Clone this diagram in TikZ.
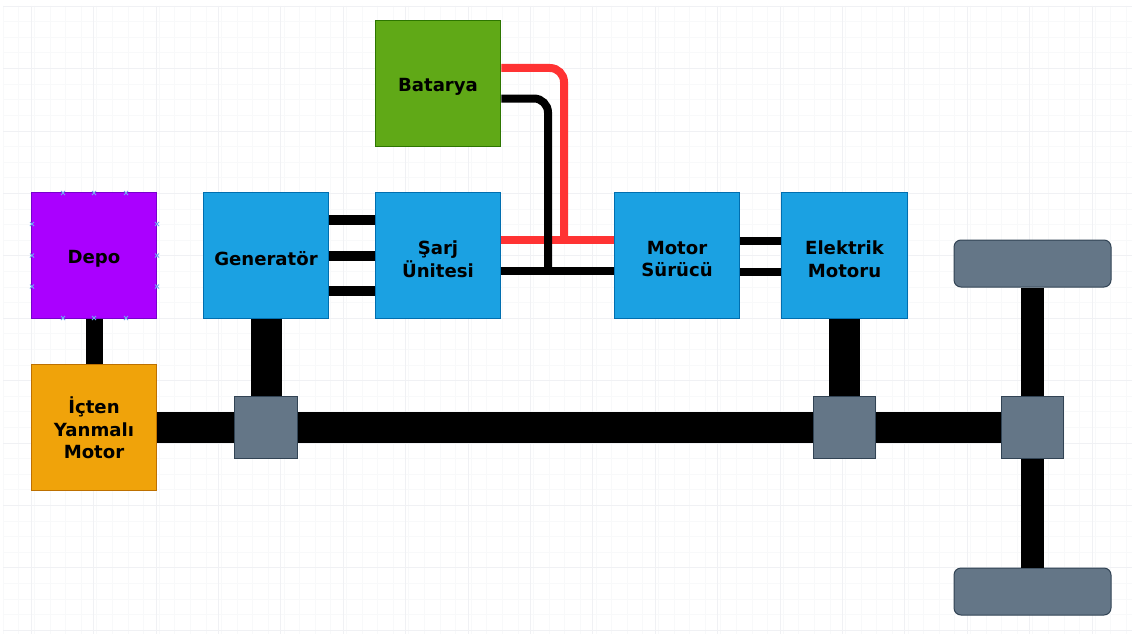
\documentclass[tikz,border=0pt]{standalone}
\usepackage{fontspec}
\setmainfont{DejaVu Sans}
\definecolor{gridline}{HTML}{F0F1F4}
\definecolor{gridfaint}{HTML}{F8F9FA}
\definecolor{redwire}{HTML}{FF3333}
\definecolor{crossblue}{HTML}{6FA8F0}
\definecolor{gearfill}{HTML}{647687}
\definecolor{gearline}{HTML}{314354}
\tikzset{
    block/.style={draw,line width=1pt,minimum size=125.5pt,inner sep=0pt},
    blocktext/.style={align=center,inner sep=0pt,yshift=-3.5pt,
      font=\fontsize{18.1}{22.5}\selectfont\bfseries},
    gear/.style={draw=gearline,fill=gearfill,line width=1pt,minimum size=62.5pt,inner sep=0pt},
    wheel/.style={draw=gearline,fill=gearfill,line width=1pt,rounded corners=7pt,
      minimum width=157pt,minimum height=47pt,inner sep=0pt},
    thin wire/.style={line width=8pt},
    mid wire/.style={line width=9.5pt},
    shaft/.style={line width=31pt},
    xmark/.style={crossblue,line width=0.8pt},
}
\def\Grid{
    \foreach \gx in {0,...,72} {
      \draw[gridfaint,line width=0.6pt] ({3+15.6*\gx},6) -- ({3+15.6*\gx},634);
    }
    \foreach \gy in {0,...,40} {
      \draw[gridfaint,line width=0.6pt] (3,{6+15.6*\gy}) -- (1132,{6+15.6*\gy});
    }
    \foreach \gx in {0,...,18} {
      \draw[gridline,line width=0.6pt] ({31+62.4*\gx},6) -- ({31+62.4*\gx},634);
    }
    \foreach \gy in {0,...,10} {
      \draw[gridline,line width=0.6pt] (3,{6+62.4*\gy}) -- (1132,{6+62.4*\gy});
    }
}
\def\Blocks{
    \node[block,fill={rgb,255:red,170;green,0;blue,255},draw={rgb,255:red,119;green,0;blue,204}] (tank) at (94,255.5) {};
    \node[block,fill={rgb,255:red,240;green,163;blue,10},draw={rgb,255:red,189;green,112;blue,0}] (engine) at (94,427.5) {};
    \node[block,fill={rgb,255:red,27;green,161;blue,226},draw={rgb,255:red,0;green,110;blue,175}] (generator) at (266,255.5) {};
    \node[block,fill={rgb,255:red,27;green,161;blue,226},draw={rgb,255:red,0;green,110;blue,175}] (charger) at (438,255.5) {};
    \node[block,fill={rgb,255:red,96;green,169;blue,23},draw={rgb,255:red,45;green,118;blue,0}] (battery) at (438,83.5) {};
    \node[block,fill={rgb,255:red,27;green,161;blue,226},draw={rgb,255:red,0;green,110;blue,175}] (driver) at (677,255.5) {};
    \node[block,fill={rgb,255:red,27;green,161;blue,226},draw={rgb,255:red,0;green,110;blue,175}] (emotor) at (844.5,255.5) {};
    \node[blocktext] (tanktext) at (tank) {Depo};
    \node[blocktext,yshift=3pt] (enginetext) at (engine) {İçten\\Yanmalı\\Motor};
    \node[blocktext] (generatortext) at (generator) {Generatör};
    \node[blocktext] (chargertext) at (charger) {Şarj\\Ünitesi};
    \node[blocktext] (batterytext) at (battery) {Batarya};
    \node[blocktext] (drivertext) at (driver) {Motor\\Sürücü};
    \node[blocktext] (emotortext) at (emotor) {Elektrik\\Motoru};
    \node[gear] (gearA) at (266,427.5) {};
    \node[gear] (gearB) at (844.5,427.5) {};
    \node[gear] (gearC) at (1032.5,427.5) {};
    \node[wheel] (wheelA) at (1032.5,263.5) {};
    \node[wheel] (wheelB) at (1032.5,591.5) {};
}
\begin{document}
\begin{tikzpicture}[x=1pt,y=-1pt]
    \useasboundingbox (0,0) rectangle (1132,634);
    \fill[white] (0,0) rectangle (1132,634);
    \Grid
    \Blocks

    \draw[line width=17pt] (tank.south) -- (engine.north);
    \draw[shaft] (generator.south) -- (gearA.north);
    \draw[shaft] (emotor.south) -- (gearB.north);
    \draw[shaft] (engine.east) -- (gearA.west);
    \draw[shaft] (gearA.east) -- (gearB.west);
    \draw[shaft] (gearB.east) -- (gearC.west);
    \draw[line width=23pt] (wheelA.south) -- (gearC.north);
    \draw[line width=23pt] (gearC.south) -- (wheelB.north);

    \draw[mid wire] ([yshift=35.5pt]generator.east) -- ([yshift=35.5pt]charger.west);
    \draw[mid wire] ([yshift=-0.5pt]generator.east) -- ([yshift=-0.5pt]charger.west);
    \draw[mid wire] ([yshift=-35.5pt]generator.east) -- ([yshift=-35.5pt]charger.west);
    \draw[thin wire] ([yshift=14.5pt]driver.east) -- ([yshift=14.5pt]emotor.west);
    \draw[thin wire] ([yshift=-16pt]driver.east) -- ([yshift=-16pt]emotor.west);

    \coordinate (redjoin) at (564,240);
    \coordinate (blackjoin) at (548,271);
    \draw[redwire,thin wire] ([yshift=15.5pt]charger.east) -- ([yshift=15.5pt]driver.west);
    \draw[redwire,thin wire,rounded corners=14pt] ([yshift=15.5pt]battery.east) -| (redjoin);
    \draw[thin wire] ([yshift=-15.5pt]charger.east) -- ([yshift=-15.5pt]driver.west);
    \draw[thin wire,rounded corners=14pt] ([yshift=-15pt]battery.east) -| (blackjoin);

    \foreach \px in {63,94,126} {
      \draw[xmark] (\px-2,191) -- (\px+2,195) (\px+2,191) -- (\px-2,195);
      \draw[xmark] (\px-2,316) -- (\px+2,320) (\px+2,316) -- (\px-2,320);
    }
    \foreach \py in {224,255.5,286.5} {
      \draw[xmark] (30,\py-2) -- (34,\py+2) (34,\py-2) -- (30,\py+2);
      \draw[xmark] (155,\py-2) -- (159,\py+2) (159,\py-2) -- (155,\py+2);
    }
\end{tikzpicture}
\end{document}
